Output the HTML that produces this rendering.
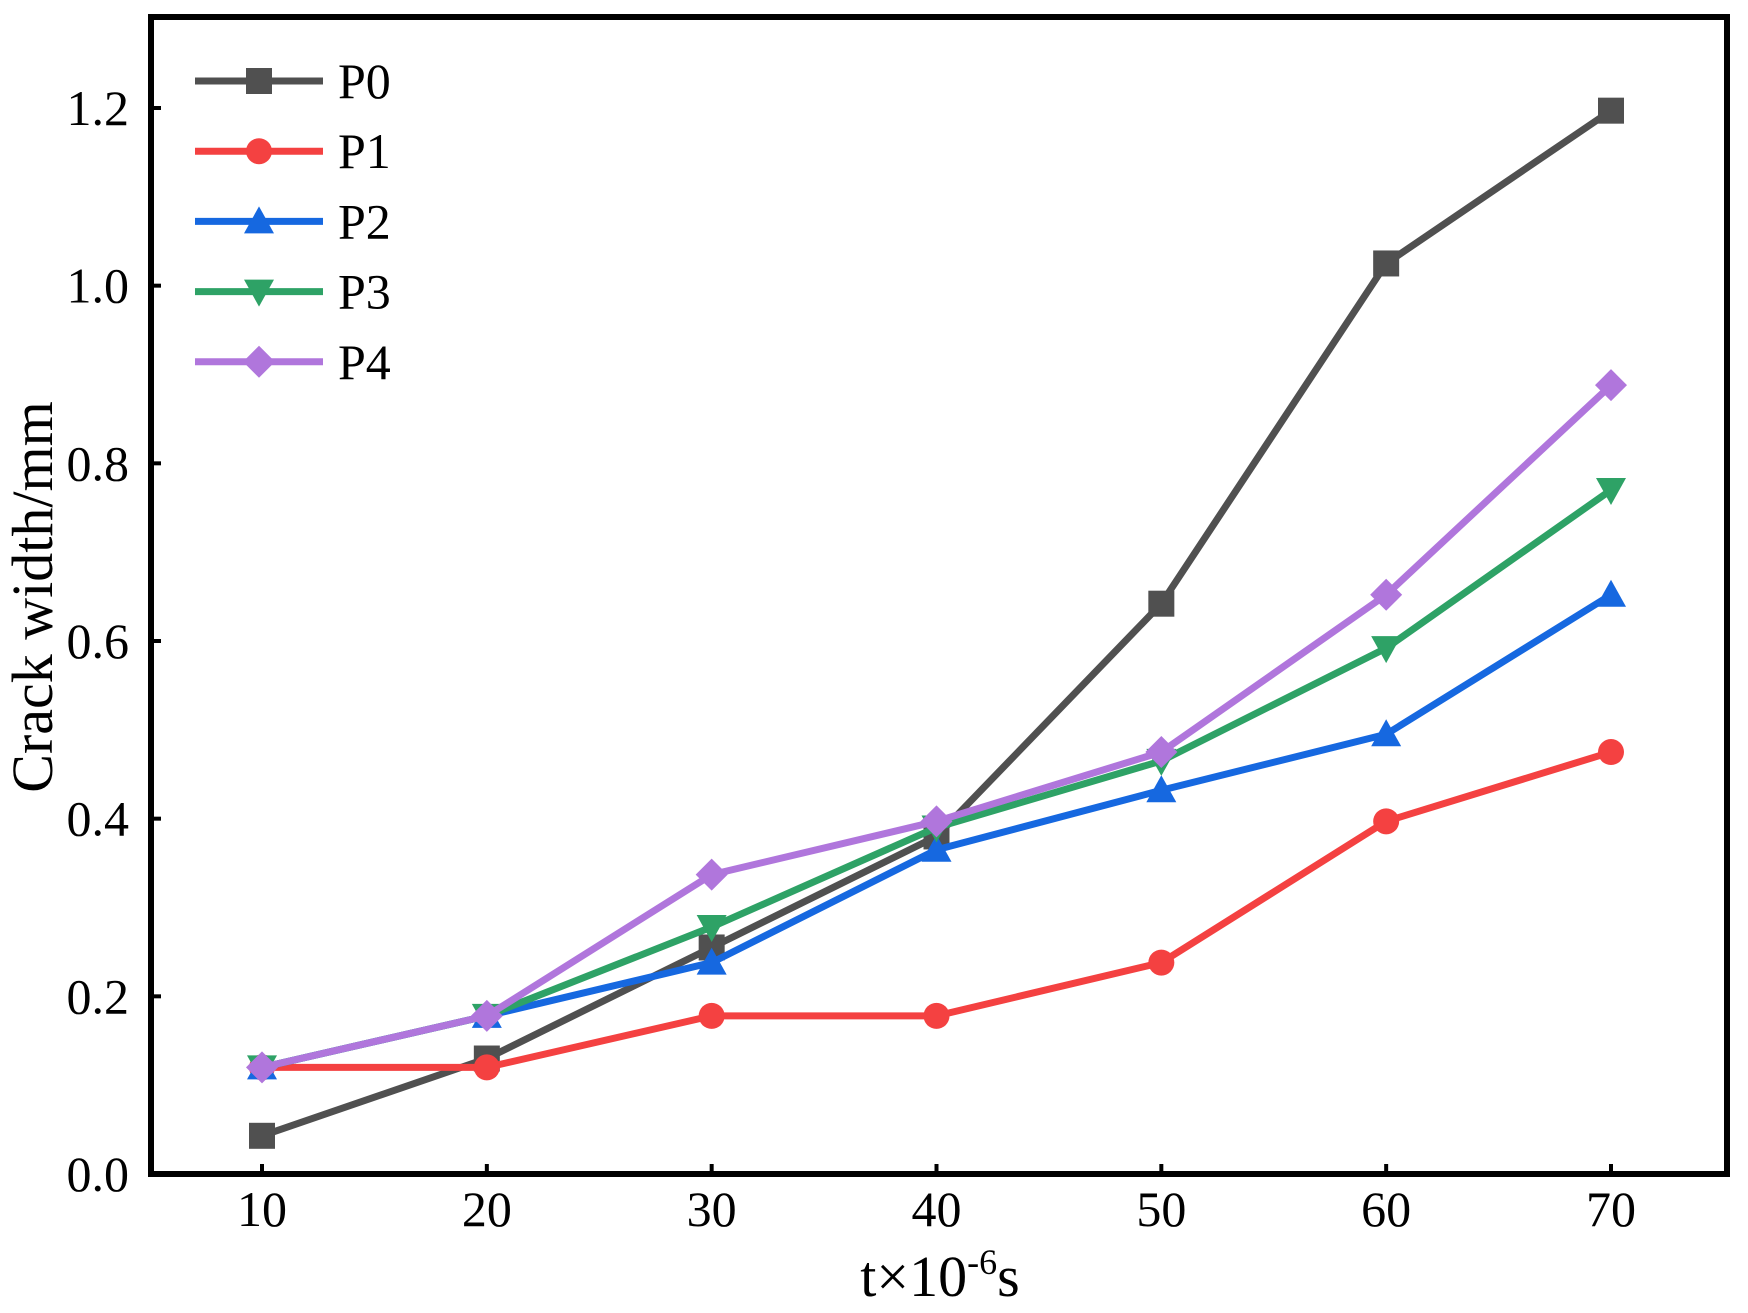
<!DOCTYPE html>
<html><head><meta charset="utf-8"><style>body{margin:0;background:#fff}svg{display:block}text{font-family:"Liberation Serif",serif;fill:#000}</style></head>
<body>
<svg id="c" width="1748" height="1313"></svg>
<script>
const categories=[10,20,30,40,50,60,70];
const p0=[0.043,0.13,0.255,0.38,0.642,1.025,1.197];
const p1=[0.12,0.12,0.178,0.178,0.238,0.397,0.475];
const p2=[0.12,0.178,0.238,0.365,0.432,0.495,0.652];
const p3=[0.12,0.178,0.278,0.39,0.465,0.592,0.77];
const p4=[0.12,0.178,0.337,0.397,0.475,0.652,0.888];
const yTicks=["0.0","0.2","0.4","0.6","0.8","1.0","1.2"];
const seriesNames=["P0","P1","P2","P3","P4"];
const NS="http://www.w3.org/2000/svg",svg=document.getElementById('c');
const L=151,R=1727,T=17,B=1174;
const X=v=>262+(v-10)*(1611-262)/60;
const Y=v=>1174-v*(1174-108)/1.2;
function mk(t,a,p){const e=document.createElementNS(NS,t);for(const k in a)e.setAttribute(k,a[k]);(p||svg).appendChild(e);return e;}
const styles=[{c:"#505050",m:"sq"},{c:"#f44141",m:"ci"},{c:"#1668e0",m:"tu"},{c:"#2ea266",m:"td"},{c:"#b076dc",m:"di"}];
function marker(m,x,y,c){const s=13;let e;
 if(m=="sq")e=mk('rect',{x:x-s,y:y-s,width:2*s,height:2*s,fill:c});
 else if(m=="ci")e=mk('circle',{cx:x,cy:y,r:s,fill:c});
 else if(m=="tu")e=mk('polygon',{points:`${x},${y-s-2} ${x+s+2},${y+s-1} ${x-s-2},${y+s-1}`,fill:c});
 else if(m=="td")e=mk('polygon',{points:`${x},${y+s+2} ${x+s+2},${y-s+1} ${x-s-2},${y-s+1}`,fill:c});
 else e=mk('polygon',{points:`${x},${y-s-3} ${x+s+3},${y} ${x},${y+s+3} ${x-s-3},${y}`,fill:c});
 
 }
const data=[p0,p1,p2,p3,p4];
data.forEach((d,i)=>{const g=mk('g',{});
 
 
 mk('polyline',{points:d.map((v,j)=>X(categories[j])+','+Y(v)).join(' '),fill:'none',stroke:styles[i].c,'stroke-width':7,'stroke-linejoin':'miter'},g);
 d.forEach((v,j)=>marker(styles[i].m,X(categories[j]),Y(v),styles[i].c));
});
const f=mk('rect',{x:L,y:T,width:R-L,height:B-T,fill:'none',stroke:'#000','stroke-width':6});

categories.forEach(v=>{mk('line',{x1:X(v),x2:X(v),y1:B,y2:B-10,stroke:'#000','stroke-width':4});
 const t=mk('text',{x:X(v),y:1226,'font-size':50,'text-anchor':'middle'});t.textContent=v;
 });
yTicks.forEach(s=>{const v=parseFloat(s);mk('line',{x1:L,x2:L+10,y1:Y(v),y2:Y(v),stroke:'#000','stroke-width':4});
 const t=mk('text',{x:129,y:Y(v)+17,'font-size':50,'text-anchor':'end'});t.textContent=s;
 });
const xt=mk('text',{x:940,y:1296,'font-size':58,'text-anchor':'middle'});
xt.innerHTML='t×10<tspan dy="-22" font-size="36">-6</tspan><tspan dy="22">s</tspan>';

const yt=mk('text',{x:0,y:0,'font-size':58,'text-anchor':'middle',transform:'translate(52,597) rotate(-90)'});
yt.textContent='Crack width/mm';

seriesNames.forEach((n,i)=>{const y=81+i*70.2;const g=mk('g',{});
 
 mk('line',{x1:195,x2:323,y1:y,y2:y,stroke:styles[i].c,'stroke-width':7},g);
 marker(styles[i].m,259,y,styles[i].c);
 const t=mk('text',{x:338,y:y+17,'font-size':50},g);t.textContent=n;});
</script>
</body></html>
